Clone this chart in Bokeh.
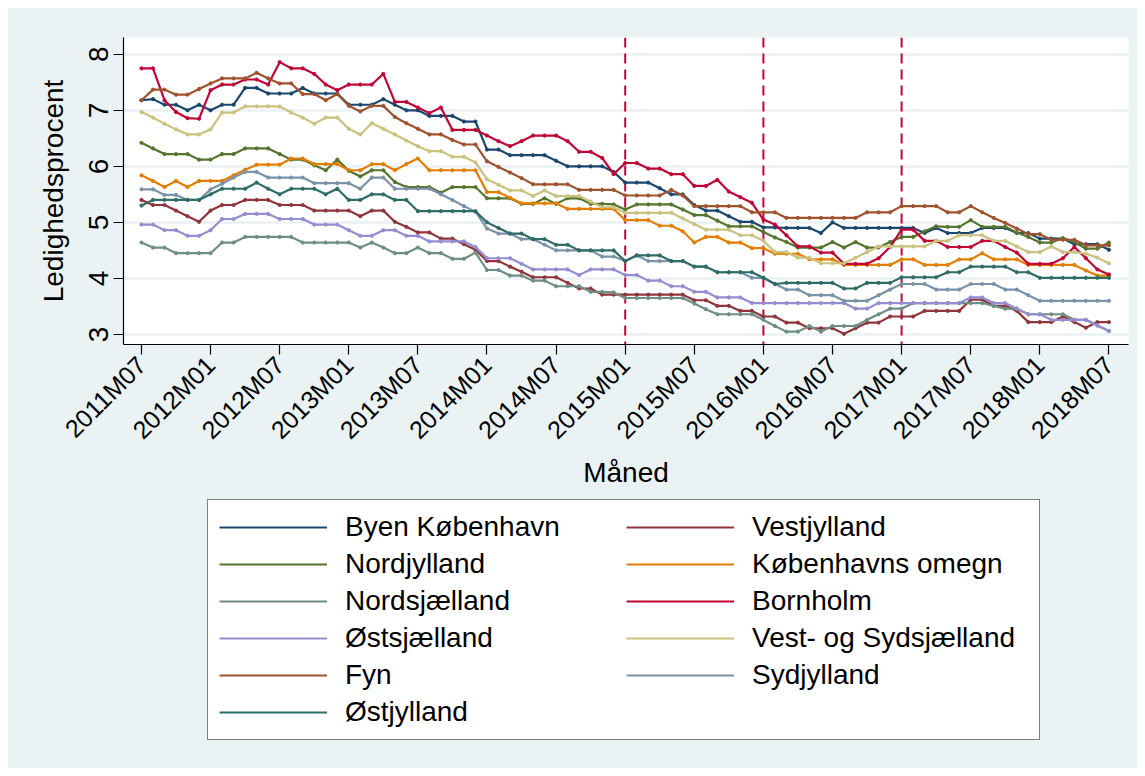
from bokeh.plotting import figure
from bokeh.models import Range1d, FixedTicker, Span, Legend, LegendItem
from bokeh.layouts import column
from bokeh.embed import file_html
from bokeh.resources import INLINE

# ---------------- data ----------------
tick_labels = ["2011M07", "2012M01", "2012M07", "2013M01", "2013M07", "2014M01", "2014M07",
               "2015M01", "2015M07", "2016M01", "2016M07", "2017M01", "2017M07", "2018M01", "2018M07"]
n_months = 85
event_months = [42, 54, 66]   # 2015M01, 2016M01, 2017M01

byen_kbh = [7.18, 7.2, 7.1, 7.1, 7.0, 7.1, 7.0, 7.1, 7.1, 7.4, 7.4, 7.3, 7.3, 7.3,
            7.4, 7.3, 7.3, 7.3, 7.1, 7.1, 7.1, 7.2, 7.1, 7.0, 7.0, 6.9, 6.9, 6.9,
            6.8, 6.8, 6.3, 6.3, 6.2, 6.2, 6.2, 6.2, 6.1, 6.0, 6.0, 6.0, 6.0, 5.9,
            5.71, 5.71, 5.71, 5.61, 5.5, 5.5, 5.31, 5.21, 5.21, 5.11, 5.01, 5.01, 4.91, 4.91,
            4.9, 4.9, 4.9, 4.81, 5.0, 4.9, 4.9, 4.9, 4.9, 4.9, 4.9, 4.9, 4.81, 4.9,
            4.81, 4.81, 4.81, 4.9, 4.9, 4.9, 4.81, 4.81, 4.71, 4.71, 4.71, 4.61, 4.61, 4.61, 4.51]
vestjylland = [5.4, 5.31, 5.31, 5.21, 5.11, 5.01, 5.21, 5.31, 5.31, 5.4, 5.4, 5.4, 5.31, 5.31,
               5.31, 5.21, 5.21, 5.21, 5.21, 5.11, 5.21, 5.21, 5.01, 4.92, 4.82, 4.82, 4.71, 4.71,
               4.61, 4.51, 4.31, 4.31, 4.21, 4.12, 4.02, 4.02, 4.02, 3.92, 3.82, 3.82, 3.71, 3.71,
               3.71, 3.71, 3.71, 3.71, 3.71, 3.71, 3.61, 3.61, 3.51, 3.51, 3.42, 3.42, 3.32, 3.32,
               3.21, 3.21, 3.11, 3.11, 3.11, 3.01, 3.11, 3.21, 3.21, 3.32, 3.32, 3.32, 3.42, 3.42,
               3.42, 3.42, 3.62, 3.62, 3.51, 3.51, 3.42, 3.22, 3.22, 3.22, 3.32, 3.22, 3.12, 3.22, 3.22]
nordjylland = [6.42, 6.32, 6.22, 6.22, 6.22, 6.12, 6.12, 6.22, 6.22, 6.32, 6.32, 6.32, 6.22, 6.12,
               6.12, 6.02, 5.93, 6.12, 5.92, 5.82, 5.93, 5.93, 5.72, 5.63, 5.63, 5.63, 5.53, 5.63,
               5.63, 5.63, 5.43, 5.43, 5.43, 5.33, 5.33, 5.43, 5.33, 5.43, 5.43, 5.33, 5.33, 5.32,
               5.23, 5.32, 5.32, 5.32, 5.32, 5.23, 5.13, 5.13, 5.03, 4.93, 4.93, 4.93, 4.83, 4.73,
               4.65, 4.55, 4.55, 4.55, 4.65, 4.55, 4.65, 4.55, 4.55, 4.65, 4.74, 4.74, 4.84, 4.93,
               4.92, 4.92, 5.04, 4.92, 4.92, 4.92, 4.82, 4.74, 4.64, 4.64, 4.72, 4.65, 4.53, 4.53, 4.64]
kbh_omegn = [5.84, 5.74, 5.63, 5.74, 5.63, 5.74, 5.74, 5.74, 5.84, 5.94, 6.03, 6.03, 6.03, 6.14,
             6.14, 6.04, 6.04, 6.04, 5.93, 5.93, 6.04, 6.04, 5.93, 6.04, 6.14, 5.93, 5.93, 5.93,
             5.93, 5.93, 5.54, 5.54, 5.44, 5.34, 5.34, 5.34, 5.34, 5.24, 5.24, 5.24, 5.24, 5.24,
             5.04, 5.04, 5.04, 4.94, 4.94, 4.84, 4.64, 4.74, 4.74, 4.64, 4.64, 4.54, 4.54, 4.44,
             4.44, 4.44, 4.34, 4.34, 4.34, 4.24, 4.24, 4.24, 4.24, 4.24, 4.34, 4.34, 4.24, 4.24,
             4.24, 4.34, 4.34, 4.45, 4.34, 4.34, 4.34, 4.24, 4.24, 4.24, 4.24, 4.24, 4.14, 4.05, 4.05]
nordsjaelland = [4.64, 4.55, 4.55, 4.45, 4.45, 4.45, 4.45, 4.64, 4.64, 4.74, 4.74, 4.74, 4.74, 4.74,
                 4.64, 4.64, 4.64, 4.64, 4.64, 4.55, 4.64, 4.55, 4.45, 4.45, 4.55, 4.45, 4.45, 4.35,
                 4.35, 4.46, 4.15, 4.15, 4.05, 4.05, 3.96, 3.96, 3.86, 3.86, 3.86, 3.76, 3.76, 3.75,
                 3.65, 3.65, 3.65, 3.65, 3.65, 3.65, 3.55, 3.45, 3.36, 3.36, 3.36, 3.36, 3.26, 3.15,
                 3.05, 3.05, 3.15, 3.05, 3.15, 3.15, 3.15, 3.26, 3.36, 3.46, 3.46, 3.56, 3.56, 3.56,
                 3.56, 3.56, 3.56, 3.56, 3.51, 3.46, 3.46, 3.36, 3.36, 3.36, 3.36, 3.26, 3.26, 3.16, 3.06]
bornholm = [7.75, 7.75, 7.18, 6.97, 6.86, 6.85, 7.36, 7.46, 7.46, 7.55, 7.55, 7.46, 7.86, 7.75,
            7.75, 7.65, 7.46, 7.36, 7.46, 7.46, 7.46, 7.65, 7.15, 7.15, 7.05, 6.95, 7.05, 6.65,
            6.65, 6.65, 6.55, 6.45, 6.36, 6.45, 6.55, 6.55, 6.55, 6.45, 6.26, 6.26, 6.15, 5.86,
            6.06, 6.06, 5.96, 5.96, 5.86, 5.86, 5.65, 5.65, 5.76, 5.55, 5.45, 5.35, 5.05, 4.96,
            4.77, 4.57, 4.57, 4.46, 4.46, 4.26, 4.26, 4.26, 4.36, 4.56, 4.87, 4.87, 4.67, 4.67,
            4.56, 4.56, 4.56, 4.67, 4.67, 4.56, 4.46, 4.26, 4.26, 4.26, 4.36, 4.56, 4.36, 4.16, 4.07]
oestsjaelland = [4.96, 4.96, 4.86, 4.86, 4.76, 4.76, 4.86, 5.06, 5.06, 5.15, 5.15, 5.15, 5.06, 5.06,
                 5.06, 4.96, 4.96, 4.96, 4.86, 4.76, 4.76, 4.86, 4.86, 4.76, 4.76, 4.66, 4.66, 4.66,
                 4.66, 4.56, 4.36, 4.36, 4.36, 4.26, 4.16, 4.16, 4.16, 4.16, 4.06, 4.16, 4.16, 4.16,
                 4.06, 4.06, 3.96, 3.96, 3.86, 3.86, 3.76, 3.76, 3.66, 3.66, 3.66, 3.56, 3.56, 3.56,
                 3.56, 3.56, 3.56, 3.56, 3.56, 3.56, 3.46, 3.46, 3.56, 3.56, 3.56, 3.56, 3.56, 3.56,
                 3.56, 3.56, 3.66, 3.66, 3.56, 3.56, 3.46, 3.36, 3.36, 3.26, 3.26, 3.26, 3.26, 3.16, 3.06]
vest_syd = [6.97, 6.87, 6.76, 6.66, 6.57, 6.57, 6.66, 6.96, 6.96, 7.07, 7.07, 7.07, 7.07, 6.96,
            6.87, 6.76, 6.87, 6.87, 6.67, 6.57, 6.77, 6.67, 6.57, 6.46, 6.36, 6.27, 6.27, 6.17,
            6.17, 6.07, 5.77, 5.67, 5.57, 5.57, 5.47, 5.57, 5.47, 5.47, 5.47, 5.37, 5.27, 5.27,
            5.17, 5.17, 5.17, 5.17, 5.17, 5.07, 4.97, 4.87, 4.87, 4.87, 4.77, 4.77, 4.67, 4.47,
            4.47, 4.37, 4.37, 4.27, 4.27, 4.27, 4.37, 4.47, 4.57, 4.57, 4.57, 4.57, 4.57, 4.67,
            4.67, 4.77, 4.77, 4.77, 4.67, 4.67, 4.57, 4.47, 4.47, 4.57, 4.47, 4.47, 4.44, 4.37, 4.27]
fyn = [7.18, 7.37, 7.37, 7.28, 7.28, 7.38, 7.48, 7.57, 7.57, 7.57, 7.67, 7.57, 7.48, 7.48,
       7.29, 7.29, 7.18, 7.29, 7.08, 6.98, 7.08, 7.08, 6.88, 6.77, 6.67, 6.57, 6.57, 6.47,
       6.39, 6.39, 6.09, 5.99, 5.89, 5.79, 5.68, 5.68, 5.68, 5.68, 5.58, 5.58, 5.58, 5.58,
       5.48, 5.48, 5.48, 5.48, 5.58, 5.48, 5.29, 5.29, 5.29, 5.29, 5.29, 5.18, 5.18, 5.18,
       5.08, 5.08, 5.08, 5.08, 5.08, 5.08, 5.08, 5.18, 5.18, 5.18, 5.29, 5.29, 5.29, 5.29,
       5.18, 5.18, 5.29, 5.18, 5.08, 4.99, 4.89, 4.79, 4.79, 4.69, 4.69, 4.69, 4.59, 4.59, 4.59]
sydjylland = [5.59, 5.59, 5.49, 5.49, 5.4, 5.4, 5.59, 5.69, 5.8, 5.9, 5.9, 5.8, 5.8, 5.8,
              5.8, 5.7, 5.7, 5.7, 5.7, 5.6, 5.8, 5.8, 5.6, 5.6, 5.6, 5.6, 5.5, 5.4,
              5.29, 5.19, 4.89, 4.8, 4.8, 4.7, 4.7, 4.6, 4.5, 4.5, 4.5, 4.5, 4.39, 4.39,
              4.31, 4.41, 4.31, 4.31, 4.31, 4.31, 4.21, 4.21, 4.11, 4.11, 4.11, 4.01, 4.01, 3.9,
              3.8, 3.8, 3.7, 3.7, 3.7, 3.6, 3.6, 3.6, 3.7, 3.8, 3.9, 3.9, 3.9, 3.8,
              3.8, 3.8, 3.9, 3.9, 3.9, 3.8, 3.8, 3.7, 3.6, 3.6, 3.6, 3.6, 3.6, 3.6, 3.6]
oestjylland = [5.3, 5.4, 5.4, 5.4, 5.4, 5.4, 5.5, 5.6, 5.6, 5.6, 5.71, 5.6, 5.5, 5.6,
               5.6, 5.6, 5.5, 5.6, 5.4, 5.4, 5.5, 5.5, 5.4, 5.4, 5.2, 5.2, 5.2, 5.2,
               5.2, 5.2, 5.0, 4.9, 4.8, 4.8, 4.7, 4.7, 4.6, 4.6, 4.5, 4.5, 4.5, 4.5,
               4.31, 4.41, 4.41, 4.41, 4.31, 4.31, 4.21, 4.21, 4.11, 4.11, 4.11, 4.11, 4.01, 3.9,
               3.92, 3.92, 3.92, 3.92, 3.92, 3.82, 3.82, 3.92, 3.92, 3.92, 4.02, 4.02, 4.02, 4.02,
               4.11, 4.11, 4.21, 4.21, 4.21, 4.21, 4.11, 4.11, 4.01, 4.01, 4.01, 4.01, 4.01, 4.01, 4.01]

series_names = ["Byen København", "Vestjylland", "Nordjylland", "Københavns omegn", "Nordsjælland",
                "Bornholm", "Østsjælland", "Vest- og Sydsjælland", "Fyn", "Sydjylland", "Østjylland"]
series_values = [byen_kbh, vestjylland, nordjylland, kbh_omegn, nordsjaelland,
                 bornholm, oestsjaelland, vest_syd, fyn, sydjylland, oestjylland]
series_colors = ["#1a476f", "#90353b", "#55752f", "#e37e00", "#6e8e84",
                 "#c10534", "#938dd2", "#cac27e", "#a0522d", "#7b92a8", "#2d6d66"]

# ---------------- main figure ----------------
FONT = "Liberation Sans"
BG = "#eaf2f3"

p = figure(width=1129, height=490, output_backend="svg", toolbar_location=None,
           x_range=Range1d(-1.56, 85.7), y_range=Range1d(2.82, 8.3),
           min_border_left=115, min_border_right=9, min_border_top=29, min_border_bottom=154)
p.background_fill_color = "white"
p.border_fill_color = BG
p.outline_line_color = None

p.xgrid.grid_line_color = None
p.ygrid.grid_line_color = BG
p.ygrid.grid_line_width = 2.5

months = list(range(n_months))

p.xaxis.ticker = FixedTicker(ticks=[6 * k for k in range(len(tick_labels))])
p.xaxis.major_label_overrides = {6 * k: lab for k, lab in enumerate(tick_labels)}
p.xaxis.major_label_orientation = 0.785398
p.yaxis.ticker = FixedTicker(ticks=[3, 4, 5, 6, 7, 8])
p.yaxis.major_label_orientation = "parallel"
p.xaxis.axis_label = "Måned"
p.yaxis.axis_label = "Ledighedsprocent"
for ax in (p.xaxis, p.yaxis):
    ax.axis_line_color = "black"
    ax.axis_line_width = 1.2
    ax.major_tick_line_color = "black"
    ax.major_tick_line_width = 1.2
    ax.major_tick_out = 10
    ax.major_tick_in = 0
    ax.minor_tick_line_color = None
    ax.major_label_text_font = FONT
    ax.major_label_text_color = "black"
    ax.axis_label_text_font = FONT
    ax.axis_label_text_font_size = "28px"
    ax.axis_label_text_font_style = "normal"
    ax.axis_label_text_color = "black"
p.xaxis.major_label_text_font_size = "25px"
p.yaxis.major_label_text_font_size = "28px"
p.xaxis.major_label_standoff = 6
p.yaxis.major_label_standoff = 5
p.xaxis.axis_label_standoff = 0
p.yaxis.axis_label_standoff = 18

for m in event_months:
    p.add_layout(Span(location=m, dimension="height", line_color="#c10534",
                      line_dash="10 6", line_width=2, level="underlay"))

for vals, col in zip(series_values, series_colors):
    p.line(months, vals, line_color=col, line_width=2.2)
    p.scatter(months, vals, size=3.2, color=col, marker="circle")

# ---------------- legend panel ----------------
lg = figure(width=1129, height=270, output_backend="svg", toolbar_location=None,
            x_range=Range1d(0, 1), y_range=Range1d(100, 101),
            x_axis_location=None, y_axis_location=None, min_border=0)
lg.background_fill_color = BG
lg.border_fill_color = BG
lg.outline_line_color = None
lg.grid.visible = False

items = []
for name, vals, col in zip(series_names, series_values, series_colors):
    r = lg.line(months, vals, line_color=col, line_width=2.2)
    items.append(LegendItem(label=name, renderers=[r]))

legend = Legend(items=items, location=(84, 28), orientation="horizontal", ncols=2,
                glyph_width=108, glyph_height=30, label_height=30, label_width=276,
                label_standoff=18, spacing=5, padding=11, margin=0,
                label_text_font=FONT, label_text_font_size="28px", label_text_color="black",
                border_line_color="black", border_line_width=1,
                background_fill_color="white", background_fill_alpha=1.0)
lg.add_layout(legend, "center")

layout = column(p, lg, spacing=0, margin=(8, 0, 0, 8), styles={"background-color": BG})
open("out.html", "w").write(file_html(layout, INLINE))
